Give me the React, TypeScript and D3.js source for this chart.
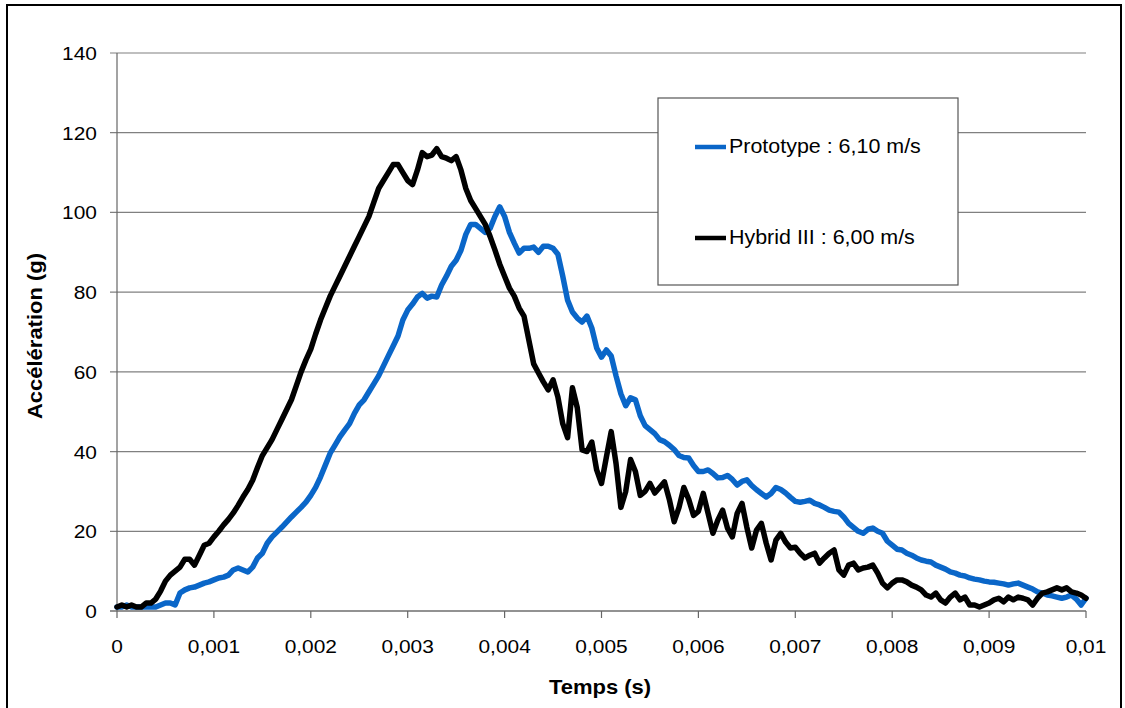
import React from "react";
import * as d3 from "d3";

const timeStep = 0.00005;

const prototypeValues: number[] = [
  1, 1, 1.5, 1, 1, 1, 1, 1, 1, 1.5,
  2, 2, 1.5, 4.5, 5.3, 5.8, 6, 6.5, 7, 7.3,
  7.8, 8.3, 8.5, 9, 10.3, 10.8, 10.3, 9.8, 11, 13.3,
  14.5, 17, 18.6, 19.8, 21, 22.3, 23.6, 24.8, 26, 27.3,
  29, 31, 33.6, 36.6, 39.6, 41.6, 43.7, 45.4, 47, 49.6,
  51.7, 53, 55, 57, 59, 61.5, 64, 66.5, 69, 73,
  75.5, 77, 78.8, 79.7, 78.5, 79, 78.8, 81.8, 84, 86.5,
  88, 90.5, 94.5, 97, 97, 96, 95, 96, 99, 101.4,
  99, 95, 92.3, 89.8, 91, 91, 91.3, 90, 91.5, 91.5,
  91, 89.5, 84, 78, 75, 73.5, 72.5, 74, 71, 66,
  63.7, 65.5, 64, 59, 54.5, 51.5, 53.5, 53, 49, 46.5,
  45.5, 44.5, 43, 42.5, 41.6, 40.5, 39, 38.5, 38.4, 36.5,
  35, 35, 35.4, 34.5, 33.4, 33.5, 34, 33, 31.6, 32.5,
  32.9, 31.5, 30.4, 29.5, 28.6, 29.5, 31, 30.5, 29.6, 28.5,
  27.5, 27.3, 27.5, 27.8, 27, 26.6, 26, 25.3, 25, 24.8,
  23.6, 22, 21, 20, 19.5, 20.5, 20.8, 20, 19.5, 17.5,
  16.5, 15.5, 15.3, 14.5, 14, 13.3, 12.8, 12.5, 12.3, 11.5,
  11, 10.5, 9.8, 9.5, 9, 8.8, 8.3, 8, 7.8, 7.5,
  7.3, 7.2, 7, 6.8, 6.5, 6.8, 7, 6.5, 6, 5.5,
  4.8, 4.5, 4, 3.8, 3.5, 3.2, 3.5, 4, 3, 1.5,
  3.2,
];

const hybridValues: number[] = [
  1, 1.5, 1, 1.5, 1, 1, 2, 2, 3, 5,
  7.5, 9, 10, 11, 13, 13, 11.5, 14, 16.5, 17,
  18.6, 20, 21.6, 23, 24.6, 26.5, 28.6, 30.5, 32.8, 36,
  39, 41, 43, 45.5, 48, 50.5, 53, 56.5, 60, 63,
  65.7, 69.5, 73, 76, 79, 81.5, 84, 86.5, 89, 91.5,
  94, 96.5, 99, 102.5, 106, 108, 110, 112, 112, 110,
  108, 107, 110.6, 115, 114, 114.4, 116, 114, 113.6, 113,
  114, 110.6, 106, 103, 101, 99, 97, 94, 90.6, 87,
  84, 81, 79, 76, 74, 68, 62, 59.7, 57.5, 55.5,
  58, 53.7, 47, 43.5, 56, 51, 40.4, 40, 42.4, 35.4,
  32, 38.6, 45, 37, 26, 30, 38, 35, 29, 30,
  32, 29.6, 31, 32.4, 28, 22.4, 26, 31, 28, 24,
  25, 29.5, 24.5, 19.5, 22.8, 25.3, 20.8, 18.6, 24.5, 27,
  21, 15.8, 20.3, 22, 17, 12.8, 17.8, 19.5, 17.3, 15.8,
  16, 14.5, 13.3, 14, 14.5, 12, 13.3, 14.5, 15.3, 10.3,
  9, 11.5, 12, 10.3, 10.8, 11, 11.5, 9.5, 7, 5.8,
  7, 7.8, 7.8, 7.3, 6.5, 6, 5.3, 4, 3.5, 4.5,
  2.8, 2, 3.5, 4.5, 2.8, 3.5, 1.5, 1.5, 1, 1.5,
  2, 2.8, 3.2, 2.3, 3.5, 2.8, 3.5, 3.2, 2.8, 1.5,
  3.2, 4.5, 4.8, 5.3, 5.8, 5.3, 5.8, 4.8, 4.5, 4,
  3.2,
];

const xTickValues = [0, 0.001, 0.002, 0.003, 0.004, 0.005, 0.006, 0.007, 0.008, 0.009, 0.01];
const xTickLabels = ["0", "0,001", "0,002", "0,003", "0,004", "0,005", "0,006", "0,007", "0,008", "0,009", "0,01"];
const yTickValues = [0, 20, 40, 60, 80, 100, 120, 140];
const yTickLabels = ["0", "20", "40", "60", "80", "100", "120", "140"];

const seriesNames = ["Prototype : 6,10 m/s", "Hybrid III : 6,00 m/s"];
const seriesColors = ["#0a66c8", "#000000"];

const W = 1125;
const H = 708;
const SX = 1.1; // horizontal stretch of the reference's text
const FONT = "Arial, 'Liberation Sans', sans-serif";

function Txt(props: {
  x: number; y: number; size: number; bold?: boolean; anchor?: string; rotate?: number; children: React.ReactNode;
}) {
  const { x, y, size, bold, anchor = "start", rotate = 0, children } = props;
  return (
    <text
      transform={`translate(${x},${y}) rotate(${rotate}) scale(${SX},1)`}
      fontFamily={FONT}
      fontSize={size}
      fontWeight={bold ? "bold" : "normal"}
      textAnchor={anchor}
      fill="#000"
    >
      {children}
    </text>
  );
}

export default function App() {
  const x = d3.scaleLinear().domain([0, 0.01]).range([117, 1086]);
  const y = d3.scaleLinear().domain([0, 140]).range([611, 53]);

  const mk = (vals: number[]) =>
    d3
      .line<number>()
      .x((_, i) => x(i * timeStep))
      .y((v) => y(v))(vals) || "";

  const series = [prototypeValues, hybridValues];

  return (
    <svg
      width={W}
      height={H}
      style={{ position: "fixed", left: 0, top: 0, background: "#fff" }}
    >
      <rect x={0} y={0} width={W} height={H} fill="#fff" />
      {/* outer frame */}
      <rect x={7} y={5} width={1114} height={720} fill="none" stroke="#000" strokeWidth={2} />

      {/* grid lines */}
      {yTickValues.map((v) => (
        <line key={"g" + v} x1={110} x2={x(0.01)} y1={y(v)} y2={y(v)} stroke="#808080" strokeWidth={1.2} />
      ))}
      {/* axes */}
      <line x1={x(0)} x2={x(0)} y1={y(140)} y2={y(0)} stroke="#666" strokeWidth={1.2} />
      <line x1={110} x2={x(0.01)} y1={y(0)} y2={y(0)} stroke="#666" strokeWidth={1.2} />
      {xTickValues.map((t) => (
        <line key={"xt" + t} x1={x(t)} x2={x(t)} y1={y(0)} y2={y(0) + 7} stroke="#666" strokeWidth={1.2} />
      ))}

      {/* tick labels */}
      {yTickValues.map((v, i) => (
        <Txt key={"yl" + v} x={97} y={y(v) + 7} size={19} anchor="end">
          {yTickLabels[i]}
        </Txt>
      ))}
      {xTickValues.map((t, i) => (
        <Txt key={"xl" + t} x={x(t)} y={653} size={19} anchor="middle">
          {xTickLabels[i]}
        </Txt>
      ))}

      {/* axis titles */}
      <Txt x={600} y={694} size={20} bold anchor="middle">Temps (s)</Txt>
      <Txt x={42} y={336} size={20} bold anchor="middle" rotate={-90}>Accélération (g)</Txt>

      {/* series */}
      {series.map((vals, i) => (
        <path
          key={"s" + i}
          d={mk(vals)}
          fill="none"
          stroke={seriesColors[i]}
          strokeWidth={5.5}
          strokeLinejoin="round"
          strokeLinecap="round"
        />
      ))}

      {/* legend */}
      <rect x={658} y={98} width={300} height={187} fill="#fff" stroke="#555" strokeWidth={1.2} />
      {seriesNames.map((name, i) => {
        const ly = i === 0 ? 147 : 238;
        return (
          <g key={"lg" + i}>
            <line x1={695} x2={726} y1={ly} y2={ly} stroke={seriesColors[i]} strokeWidth={4.5} />
            <Txt x={729} y={ly + 6} size={19.5}>{name}</Txt>
          </g>
        );
      })}
    </svg>
  );
}
